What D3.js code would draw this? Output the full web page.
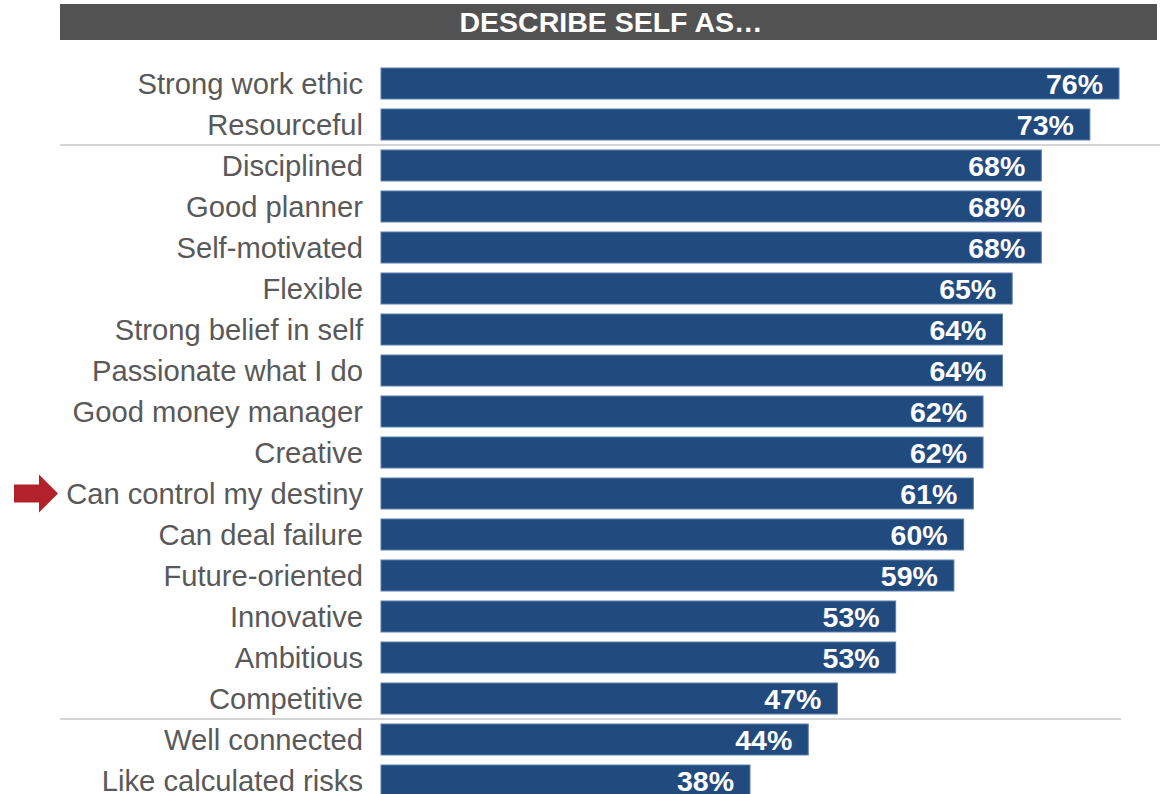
<!DOCTYPE html>
<html>
<head>
<meta charset="utf-8">
<script src="https://cdn.jsdelivr.net/npm/d3@7"></script>
<style>
  html, body { margin: 0; padding: 0; background: #ffffff; }
  svg { display: block; }
</style>
</head>
<body>
<svg id="chart" width="1160" height="794"></svg>
<script>
// Traits respondents use to describe themselves, share of respondents (%)
const categories = [
  "Strong work ethic", "Resourceful", "Disciplined", "Good planner",
  "Self-motivated", "Flexible", "Strong belief in self", "Passionate what I do",
  "Good money manager", "Creative", "Can control my destiny", "Can deal failure",
  "Future-oriented", "Innovative", "Ambitious", "Competitive",
  "Well connected", "Like calculated risks"
];
const values = [76, 73, 68, 68, 68, 65, 64, 64, 62, 62, 61, 60, 59, 53, 53, 47, 44, 38];
const title = "DESCRIBE SELF AS…";
const highlighted = "Can control my destiny";
// group dividers sit after these rows: [row, right end of the rule]
const dividers = [["Resourceful", 1160], ["Competitive", 1121]];

const data = categories.map((c, i) => ({ category: c, value: values[i] }));

const svg = d3.select("#chart");
const font = "'Liberation Sans', Arial, Helvetica, sans-serif";

const x = d3.scaleLinear().domain([0, 76]).range([381, 1119]);
const y = d3.scaleBand()
  .domain(categories)
  .range([63, 801])
  .paddingInner(0.244)
  .paddingOuter(0.122);

// title banner
svg.append("rect")
  .attr("x", 60).attr("y", 4)
  .attr("width", 1097).attr("height", 36)
  .attr("fill", "#525252");
svg.append("text")
  .attr("x", 611).attr("y", 32)
  .attr("text-anchor", "middle")
  .attr("font-family", font)
  .attr("font-weight", "bold")
  .attr("font-size", 28.5)
  .attr("fill", "#ffffff")
  .text(title);

// dividers between groups
const step = y.step();
svg.selectAll("line.divider")
  .data(dividers)
  .join("line")
  .attr("class", "divider")
  .attr("x1", 60)
  .attr("x2", d => d[1])
  .attr("y1", d => y(d[0]) + y.bandwidth() + (step - y.bandwidth()) / 2)
  .attr("y2", d => y(d[0]) + y.bandwidth() + (step - y.bandwidth()) / 2)
  .attr("stroke", "#c8c8c8")
  .attr("stroke-width", 1.6);

// bars
svg.selectAll("rect.bar")
  .data(data)
  .join("rect")
  .attr("class", "bar")
  .attr("x", x(0))
  .attr("y", d => y(d.category))
  .attr("width", d => x(d.value) - x(0))
  .attr("height", y.bandwidth())
  .attr("fill", "#214a7e")
  .attr("stroke", "#5a7eac")
  .attr("stroke-width", 1);

// value labels inside bar ends
svg.selectAll("text.value")
  .data(data)
  .join("text")
  .attr("class", "value")
  .attr("x", d => x(d.value) - 16)
  .attr("y", d => y(d.category) + y.bandwidth() / 2 + 10.5)
  .attr("text-anchor", "end")
  .attr("font-family", font)
  .attr("font-weight", "bold")
  .attr("font-size", 28.5)
  .attr("fill", "#ffffff")
  .text(d => d.value + "%");

// category labels
svg.selectAll("text.cat")
  .data(data)
  .join("text")
  .attr("class", "cat")
  .attr("x", 363)
  .attr("y", d => y(d.category) + y.bandwidth() / 2 + 10)
  .attr("text-anchor", "end")
  .attr("font-family", font)
  .attr("font-size", 29.2)
  .attr("fill", "#595959")
  .text(d => d.category);

// pointer arrow next to the highlighted trait
const cy = y(highlighted) + y.bandwidth() / 2;
const arrow = d3.path();
arrow.moveTo(14, cy - 9);
arrow.lineTo(39, cy - 9);
arrow.lineTo(39, cy - 19);
arrow.lineTo(58, cy);
arrow.lineTo(39, cy + 19);
arrow.lineTo(39, cy + 9);
arrow.lineTo(14, cy + 9);
arrow.closePath();
svg.append("path")
  .attr("d", arrow.toString())
  .attr("fill", "#b3212a");
</script>
</body>
</html>
